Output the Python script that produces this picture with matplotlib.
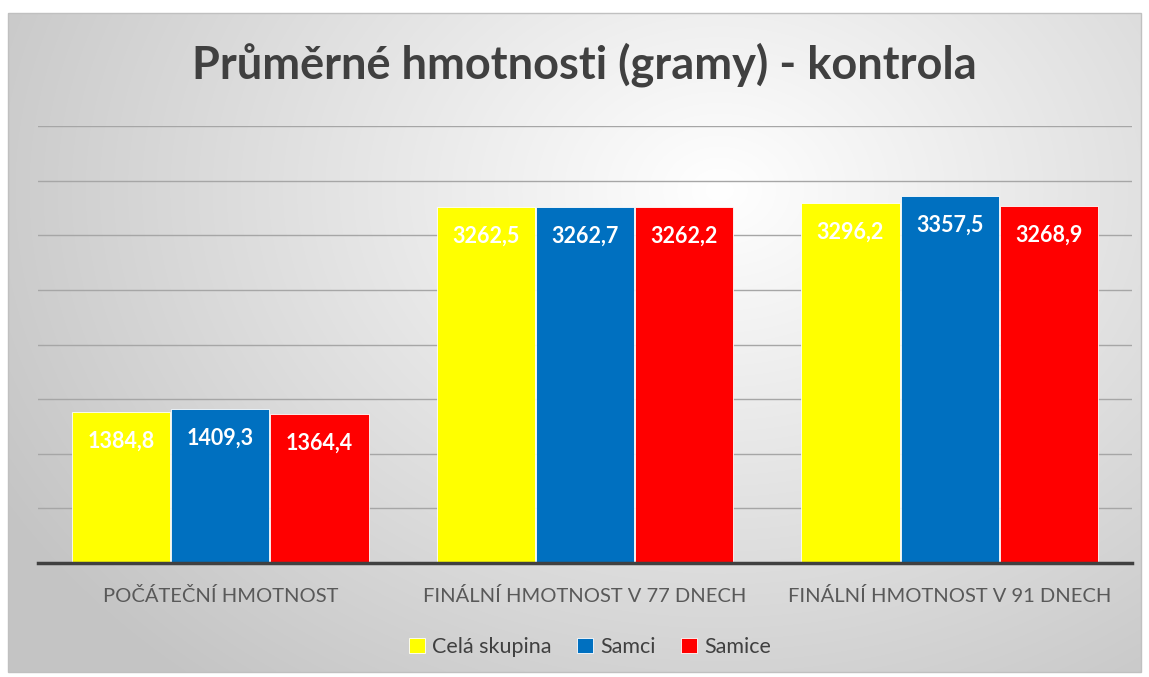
import numpy as np
import matplotlib.pyplot as plt
from matplotlib.patches import Rectangle

categories = ["POČÁTEČNÍ HMOTNOST", "FINÁLNÍ HMOTNOST V 77 DNECH", "FINÁLNÍ HMOTNOST V 91 DNECH"]
series_names = ["Celá skupina", "Samci", "Samice"]
cela_skupina = [1384.8, 3262.5, 3296.2]
samci = [1409.3, 3262.7, 3357.5]
samice = [1364.4, 3262.2, 3268.9]
colors = ["#FFFF00", "#0070C0", "#FF0000"]
title = "Průměrné hmotnosti (gramy) - kontrola"

plt.rcParams['font.family'] = ['Lato', 'DejaVu Sans']

W, H = 1149, 677
fig = plt.figure(figsize=(W / 100, H / 100), dpi=100)

# background with radial gradient in chart frame
bg = fig.add_axes([0, 0, 1, 1], zorder=-10)
bg.set_xlim(0, W)
bg.set_ylim(H, 0)
bg.axis('off')
x0, x1, y0, y1 = 8, 1141, 13, 672
xx, yy = np.meshgrid(np.linspace(x0, x1, 400), np.linspace(y0, y1, 300))
cx, cy = 720, 190
d = np.sqrt(((xx - cx) / 900.0) ** 2 + ((yy - cy) / 700.0) ** 2)
val = np.clip(1.0 - 0.25 * d, 0.77, 1.0)
img = np.dstack([val, val, val])
bg.imshow(img, extent=[x0, x1, y1, y0], aspect='auto', interpolation='bicubic')
bg.add_patch(Rectangle((x0, y0), x1 - x0, y1 - y0, fill=False, edgecolor='#c0c0c0', lw=1))

# main axes
left, right, top, bottom = 38, 1132, 126, 563
ax = fig.add_axes([left / W, 1 - bottom / H, (right - left) / W, (bottom - top) / H])
ax.patch.set_alpha(0)

n = len(categories)
x = np.arange(n)
bw = 0.272
data = [cela_skupina, samci, samice]
for i, (vals, col, name) in enumerate(zip(data, colors, series_names)):
    pos = x + (i - 1) * bw
    bars = ax.bar(pos, vals, width=bw * 0.99, color=col, edgecolor='white', linewidth=0.6,
                  label=name, zorder=3)
    for b, v in zip(bars, vals):
        ax.annotate(f"{v:.1f}".replace('.', ','), (b.get_x() + b.get_width() / 2, v),
                    xytext=(0, -21), textcoords='offset points', ha='center', va='center',
                    color='white', fontsize=15.5, fontweight='bold', zorder=4)

ax.set_xlim(-0.5, n - 0.5)
ax.set_ylim(0, 4000)
ax.set_yticks(np.arange(0, 4001, 500))
ax.yaxis.grid(True, color='#a6a6a6', lw=1, zorder=0)
ax.tick_params(axis='y', left=False, labelleft=False)
ax.tick_params(axis='x', bottom=False, pad=14)
ax.set_xticks(x)
ax.set_xticklabels(categories, fontsize=14.5, color='#595959')
for s in ['left', 'right', 'top']:
    ax.spines[s].set_visible(False)
ax.spines['bottom'].set_color('#404040')
ax.spines['bottom'].set_linewidth(2.5)
ax.spines['bottom'].set_zorder(5)

fig.text(584 / W, 1 - 65 / H, title, ha='center', va='center', fontsize=32.5,
         fontweight='bold', color='#404040')

leg = fig.legend(loc='center', bbox_to_anchor=(590 / W, 1 - 647 / H), ncol=3, frameon=False,
                 fontsize=15.5, handlelength=0.75, handleheight=0.75, handletextpad=0.3,
                 columnspacing=1.2, labelcolor='#404040')

fig.savefig('out.png', dpi=100)
